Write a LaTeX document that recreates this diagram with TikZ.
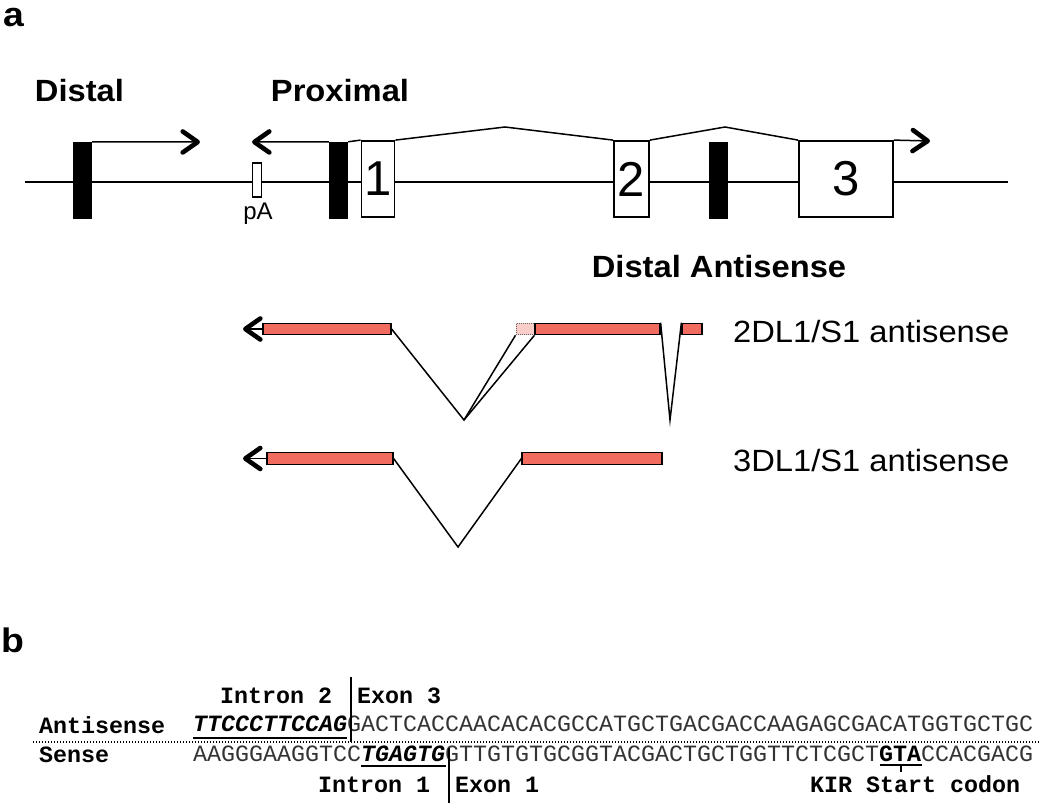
\documentclass[tikz,border=0pt]{standalone}
\usepackage{graphicx}
\usepackage{fontspec}
\setmainfont{Liberation Sans}
\setmonofont{Liberation Mono}
\usetikzlibrary{arrows.meta}
\definecolor{salmon}{RGB}{241,108,95}
\definecolor{palesalmon}{RGB}{249,205,200}
\newcommand{\hstretch}[1]{\scalebox{1.065}[1]{#1}}
\begin{document}
\begin{tikzpicture}[x=1pt,y=-1pt,
  biglbl/.style={inner sep=0, font=\fontsize{30.7}{36}\selectfont\bfseries},
  reglbl/.style={inner sep=0, font=\fontsize{30.7}{36}\selectfont},
  panel/.style={inner sep=0, font=\fontsize{34}{40}\selectfont\bfseries},
  blk/.style={fill=black, inner sep=0, minimum width=19pt, minimum height=77pt},
  exonbox/.style={draw, line width=1.8pt, fill=white, inner sep=0, minimum height=76pt, font=\fontsize{49}{50}\selectfont},
  bar/.style={draw, line width=1.2pt, fill=salmon, inner sep=0, minimum height=11.5pt},
  thin/.style={line width=1.5pt},
  chev/.style={line width=1.5pt, -{Straight Barb[length=15pt,width=21pt,line width=4.6pt,round]}},
  mono/.style={inner sep=0, anchor=base west, font=\fontsize{23.33}{28}\selectfont\ttfamily},
  monob/.style={mono, font=\fontsize{23.33}{28}\selectfont\ttfamily\bfseries},
  uline/.style={line width=2.4pt}
]
\useasboundingbox (0,0) rectangle (1050,803);

% ---------- panel a ----------
\node[panel, anchor=base west] (pa) at (3,26) {\scalebox{1.1}[1]{a}};

\coordinate (L) at (25,182);
\coordinate (R) at (1008,182);
\draw[line width=2.8pt] (L) -- (R);

\node[blk] (d1) at (82.5,180.5) {};
\node[blk] (p1) at (338.5,180.5) {};
\node[blk] (b3) at (718.5,180.5) {};
\node[draw, line width=1.5pt, fill=white, inner sep=0, minimum width=9pt, minimum height=34pt] (pA) at (257,180) {};
\node[inner sep=0, anchor=base, font=\fontsize{24}{26}\selectfont] (pAl) at (258,219) {pA};

\node[exonbox, minimum width=33pt] (e1) at (378,179) {1};
\node[exonbox, minimum width=35pt] (e2) at (631.5,179) {2};
\node[exonbox, minimum width=94pt] (e3) at (846,179) {3};

\node[biglbl, anchor=base] (ld) at (79.5,101) {\hstretch{Distal}};
\node[biglbl, anchor=base] (lp) at (340,101) {\hstretch{Proximal}};

\coordinate (dT) at (200,142);
\coordinate (pT) at (252,142);
\coordinate (eT) at (930,141);
\coordinate (s1) at (505,127);
\coordinate (s2) at (725,127);

\draw[chev] (d1.north east) -- (dT);
\draw[chev] (p1.north west) -- (pT);
\draw[thin] (p1.north east) -- (e1.north west);
\draw[thin] (e1.north east) -- (s1) -- (e2.north west);
\draw[thin] (e2.north east) -- (s2) -- (e3.north west);
\draw[chev] (e3.north east) -- (eT);

\node[biglbl, anchor=base] (lda) at (719,277) {\hstretch{Distal Antisense}};

% transcript 1
\node[bar, minimum width=128pt] (tb1) at (327,329) {};
\node[draw, densely dotted, draw=black!60, line width=1pt, fill=palesalmon, inner sep=0, minimum width=19pt, minimum height=11.5pt] (tl) at (525.5,329) {};
\node[bar, minimum width=125pt] (tb2) at (597.5,329) {};
\node[bar, minimum width=20pt] (tb3) at (692,329) {};
\coordinate (t1T) at (243,329);
\coordinate (v1) at (464,420);
\coordinate (v2) at (670,420);
\draw[chev] (tb1.west) -- (t1T);
\draw[thin] (tb1.east) -- (v1) -- (tl.south west);
\draw[thin] (v1) -- (tb2.south west);
\draw[thin] (tb2.north east) -- (v2) -- (tb3.north west);
\node[reglbl, anchor=base west] (l2dl) at (733,342) {\hstretch{2DL1/S1 antisense}};

% transcript 2
\node[bar, minimum width=126pt] (ub1) at (330,458.5) {};
\node[bar, minimum width=140pt] (ub2) at (592,458.5) {};
\coordinate (t2T) at (243,458.5);
\coordinate (v3) at (458,547);
\draw[chev] (ub1.west) -- (t2T);
\draw[thin] (ub1.east) -- (v3) -- (ub2.west);
\node[reglbl, anchor=base west] (l3dl) at (733,471) {\hstretch{3DL1/S1 antisense}};

% ---------- panel b ----------
\node[panel, anchor=base west] (pb) at (1,652) {\scalebox{1.1}[1]{b}};

\node[monob] (i2) at (220,703) {Intron 2};
\node[monob] (x3) at (357,703) {Exon 3};
\node[monob] (las) at (39,733) {Antisense};
\node[monob] (lse) at (39,762) {Sense};
\node[mono, text=black!80] (sa) at (193,731) {\textcolor{black}{\bfseries\itshape TTCCCTTCCAG}GACTCACCAACACACGCCATGCTGACGACCAAGAGCGACATGGTGCTGC};
\node[mono, text=black!80] (ss) at (193,761) {AAGGGAAGGTCC\textcolor{black}{\bfseries\itshape TGAGTG}GTTGTGTGCGGTACGACTGCTGGTTCTCGCT\textcolor{black}{\bfseries GTA}CCACGACG};
\node[monob] (i1) at (318,792) {Intron 1};
\node[monob] (x1) at (455,792) {Exon 1};
\node[monob] (kir) at (810,792) {KIR Start codon};

\coordinate (dl) at (33,742);
\coordinate (dr) at (1040,742);
\draw[line width=1.3pt, dash pattern=on 1.4pt off 1.6pt] (dl) -- (dr);

\coordinate (va1) at (351,677);
\coordinate (va2) at (351,742);
\coordinate (vb1) at (449,748);
\coordinate (vb2) at (449,803);
\draw[thin] (va1) -- (va2);
\draw[thin] (vb1) -- (vb2);

% underlines
\coordinate (u1a) at (193,738);
\coordinate (u1b) at (347,738);
\coordinate (u2a) at (361,766);
\coordinate (u2b) at (446,766);
\coordinate (u3a) at (880,765);
\coordinate (u3b) at (922,765);
\coordinate (tk1) at (901,765);
\coordinate (tk2) at (901,772);
\draw[uline] (u1a) -- (u1b);
\draw[uline] (u2a) -- (u2b);
\draw[line width=2pt] (u3a) -- (u3b);
\draw[thin] (tk1) -- (tk2);
\end{tikzpicture}
\end{document}
